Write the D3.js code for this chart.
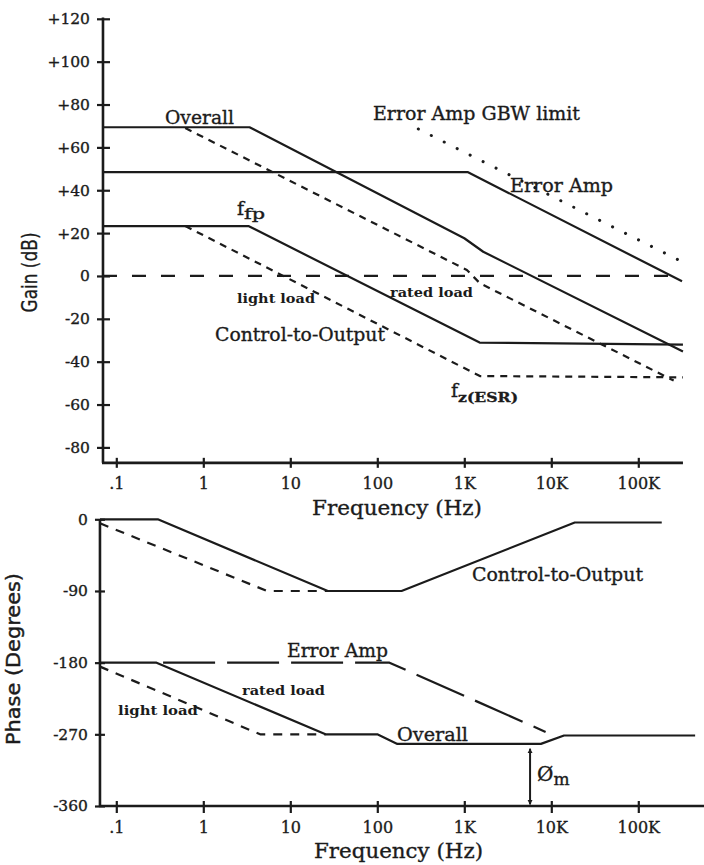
<!DOCTYPE html>
<html><head><meta charset="utf-8">
<script src="https://cdn.jsdelivr.net/npm/d3@7"></script>
<style>html,body{margin:0;padding:0;background:#fff;} svg{display:block;}</style>
</head><body>
<svg id="chart" width="704" height="865"></svg>
<script>
// ---------- axis ticks ----------
const freqTicks  = [0.1, 1, 10, 100, 1000, 10000, 100000];
const freqLabels = [".1", "1", "10", "100", "1K", "10K", "100K"];
const gainTicks  = [120, 100, 80, 60, 40, 20, 0, -20, -40, -60, -80];
const gainLabels = ["+120", "+100", "+80", "+60", "+40", "+20", "0", "-20", "-40", "-60", "-80"];
const phaseTicks  = [0, -90, -180, -270, -360];
const phaseLabels = ["0", "-90", "-180", "-270", "-360"];

// axis extents [min, max]
const gainFreqExtent  = [0.0703, 326000];
const gainAxisExtent  = [-87.2, 120.6];
const phaseFreqExtent = [0.0649, 569000];
const phaseAxisExtent = [-360, 0];

// ---------- gain curves: [frequency Hz, dB] ----------
const gainErrorAmp      = [[0.0703, 48.5], [1090, 48.5], [318000, -2.5]];
const gainGbwLimit      = [[296, 68.6], [288000, 7.5]];
const gainOverallRated  = [[0.0703, 69.4], [3.4, 69.4], [1000, 17.6], [1650, 11.3], [326000, -35.3]];
const gainControlRated  = [[0.0703, 23.3], [3.3, 23.3], [1500, -31.1], [326000, -32]];
const gainOverallLight  = [[0.62, 69.0], [1070, 2.8], [1510, -3.4], [255000, -48.8]];
const gainControlLight  = [[0.62, 23.3], [1510, -46.7], [326000, -47.3]];
const gainZeroLine      = [[0.0703, 0], [326000, 0]];

// ---------- phase curves: [frequency Hz, degrees] ----------
const phaseControlRated = [[0.0649, 0], [0.3, 0], [27, -90], [190, -90], [18600, -4], [186000, -4]];
const phaseControlLight = [[0.0649, -5], [5.4, -90], [27, -90]];
const phaseErrorAmp     = [[0.345, -180], [138, -180], [8600, -267]];
const phaseOverallRated = [[0.0649, -180], [0.29, -180], [25.4, -270], [100, -270], [170, -282], [7600, -282], [14000, -271.5], [450000, -271.5]];
const phaseOverallLight = [[0.0649, -185], [4.5, -270], [25.4, -270]];
const phaseMargin       = [[5700, -288], [5700, -358]];

// ---------- drawing ----------
const ink = "#1b1b1b";
const serif = "'DejaVu Serif', serif";
const sans = "'DejaVu Sans', sans-serif";
const svg = d3.select("#chart");
svg.append("rect").attr("width", 704).attr("height", 865).attr("fill", "#fff");

const x  = d3.scaleLog().domain([0.1, 100000]).range([116.3, 638.3]);
const yG = d3.scaleLinear().domain([-80, 120]).range([447.4, 18.8]);
const yP = d3.scaleLinear().domain([-360, 0]).range([806, 519.3]);

const lineG = d3.line().x(d => x(d[0])).y(d => yG(d[1]));
const lineP = d3.line().x(d => x(d[0])).y(d => yP(d[1]));

function curve(gen, data, dash, width, cap) {
  return svg.append("path").attr("d", gen(data))
    .attr("fill", "none").attr("stroke", ink)
    .attr("stroke-width", width || 2.2)
    .attr("stroke-linejoin", "round")
    .attr("stroke-linecap", cap || "butt")
    .attr("stroke-dasharray", dash || null);
}

// defs: arrowheads
const defs = svg.append("defs");
defs.append("marker").attr("id", "arr").attr("viewBox", "0 0 10 10")
  .attr("refX", 9).attr("refY", 5).attr("markerWidth", 5).attr("markerHeight", 7)
  .attr("markerUnits", "userSpaceOnUse").attr("orient", "auto-start-reverse")
  .append("path").attr("d", "M0,0 L10,5 L0,10 Z").attr("fill", ink);

// ===== TOP: gain =====
svg.append("line")
  .attr("x1", x(gainFreqExtent[0])).attr("x2", x(gainFreqExtent[0]))
  .attr("y1", yG(gainAxisExtent[1])).attr("y2", yG(gainAxisExtent[0]))
  .attr("stroke", ink).attr("stroke-width", 2.6);
svg.append("line")
  .attr("x1", x(gainFreqExtent[0]) - 1).attr("x2", x(gainFreqExtent[1]))
  .attr("y1", yG(gainAxisExtent[0])).attr("y2", yG(gainAxisExtent[0]))
  .attr("stroke", ink).attr("stroke-width", 2.6);

const gY = svg.append("g").attr("transform", `translate(${x(gainFreqExtent[0])},0)`)
  .call(d3.axisLeft(yG).tickValues(gainTicks).tickFormat((d, i) => gainLabels[i]).tickSizeInner(6).tickSizeOuter(0));
gY.select(".domain").remove();
gY.attr("font-family", serif).attr("font-size", 15.5);
gY.selectAll(".tick line").attr("x1", 7).attr("x2", -6).attr("stroke", ink).attr("stroke-width", 2.2);
gY.selectAll(".tick text").attr("x", -13).attr("fill", ink).attr("stroke", ink).attr("stroke-width", 0.35);

const gX = svg.append("g").attr("transform", `translate(0,${yG(gainAxisExtent[0])})`)
  .call(d3.axisBottom(x).tickValues(freqTicks).tickFormat((d, i) => freqLabels[i]).tickSizeInner(5).tickSizeOuter(0));
gX.select(".domain").remove();
gX.attr("font-family", serif).attr("font-size", 16);
gX.selectAll(".tick line").attr("y1", -5).attr("y2", 5).attr("stroke", ink).attr("stroke-width", 2.2);
gX.selectAll(".tick text").attr("y", 26).attr("dy", null).attr("fill", ink).attr("stroke", ink).attr("stroke-width", 0.35);

// curves
curve(lineG, gainZeroLine, "14,15", 2.2);
curve(lineG, gainGbwLimit, "0.1,14.4", 3, "round");
curve(lineG, gainErrorAmp);
curve(lineG, gainOverallRated);
curve(lineG, gainControlRated);
curve(lineG, gainOverallLight, "7,6");
curve(lineG, gainControlLight, "7,6");

// ===== BOTTOM: phase =====
svg.append("line")
  .attr("x1", x(phaseFreqExtent[0])).attr("x2", x(phaseFreqExtent[0]))
  .attr("y1", yP(phaseAxisExtent[1])).attr("y2", yP(phaseAxisExtent[0]))
  .attr("stroke", ink).attr("stroke-width", 2.6);
svg.append("line")
  .attr("x1", x(phaseFreqExtent[0]) - 1).attr("x2", x(phaseFreqExtent[1]))
  .attr("y1", yP(phaseAxisExtent[0])).attr("y2", yP(phaseAxisExtent[0]))
  .attr("stroke", ink).attr("stroke-width", 2.6);

const pY = svg.append("g").attr("transform", `translate(${x(phaseFreqExtent[0])},0)`)
  .call(d3.axisLeft(yP).tickValues(phaseTicks).tickFormat((d, i) => phaseLabels[i]).tickSizeInner(5).tickSizeOuter(0));
pY.select(".domain").remove();
pY.attr("font-family", serif).attr("font-size", 15.5);
pY.selectAll(".tick line").attr("x1", 5).attr("x2", -5).attr("stroke", ink).attr("stroke-width", 2.2);
pY.selectAll(".tick text").attr("x", -12).attr("fill", ink).attr("stroke", ink).attr("stroke-width", 0.35);

const pX = svg.append("g").attr("transform", `translate(0,${yP(phaseAxisExtent[0])})`)
  .call(d3.axisBottom(x).tickValues(freqTicks).tickFormat((d, i) => freqLabels[i]).tickSizeInner(6).tickSizeOuter(0));
pX.select(".domain").remove();
pX.attr("font-family", serif).attr("font-size", 16);
pX.selectAll(".tick line").attr("y1", -5).attr("y2", 7).attr("stroke", ink).attr("stroke-width", 2.2);
pX.selectAll(".tick text").attr("y", 27).attr("dy", null).attr("fill", ink).attr("stroke", ink).attr("stroke-width", 0.35);

curve(lineP, phaseControlRated);
curve(lineP, phaseControlLight, "9,8");
curve(lineP, phaseErrorAmp, "52,12");
curve(lineP, phaseOverallRated);
curve(lineP, phaseOverallLight, "9,8");
curve(lineP, phaseMargin, null, 2)
  .attr("marker-start", "url(#arr)").attr("marker-end", "url(#arr)");

// ---------- text ----------
function label(txt, px, py, size, opts) {
  opts = opts || {};
  const t = svg.append("text").attr("x", px).attr("y", py)
    .attr("font-family", opts.family || serif).attr("font-size", size)
    .attr("font-weight", opts.weight || "normal").attr("fill", ink)
    .attr("stroke", ink).attr("stroke-width", opts.sw == null ? 0.35 : opts.sw)
    .text(txt);
  if (opts.len) t.attr("textLength", opts.len).attr("lengthAdjust", "spacingAndGlyphs");
  return t;
}
function subLabel(main, sub, px, py, size, subSize, subDy, subOpts) {
  const t = svg.append("text").attr("x", px).attr("y", py)
    .attr("font-family", serif).attr("font-size", size).attr("fill", ink)
    .attr("stroke", ink).attr("stroke-width", 0.35);
  t.append("tspan").text(main);
  const s = t.append("tspan").attr("dy", subDy).attr("font-size", subSize)
    .attr("font-weight", subOpts.weight || "normal").text(sub);
  if (subOpts.len) s.attr("textLength", subOpts.len).attr("lengthAdjust", "spacingAndGlyphs");
  return t;
}

// top chart labels
label("Overall", 165, 124, 19, {len: 69});
label("Error Amp GBW limit", 373, 120, 19, {len: 207});
label("Error Amp", 510, 192, 19, {len: 103});
subLabel("f", "fp", 237, 215, 19, 15, 4, {len: 21});
label("light load", 237, 303, 13, {weight: "bold", len: 78, sw: 0});
label("rated load", 390, 297, 13, {weight: "bold", len: 83, sw: 0});
label("Control-to-Output", 215, 341, 19, {len: 170});
subLabel("f", "z(ESR)", 451, 397, 19, 13.5, 5, {weight: "bold", len: 60});
label("Frequency (Hz)", 312, 515, 21, {len: 170});

// axis titles
svg.append("text").attr("transform", "translate(37,272.5) rotate(-90)")
  .attr("text-anchor", "middle").attr("font-family", sans).attr("font-size", 21)
  .attr("fill", ink).attr("stroke", ink).attr("stroke-width", 0.3)
  .attr("textLength", 80).attr("lengthAdjust", "spacingAndGlyphs")
  .text("Gain (dB)");
svg.append("text").attr("transform", "translate(20,659) rotate(-90)")
  .attr("text-anchor", "middle").attr("font-family", sans).attr("font-size", 20)
  .attr("fill", ink).attr("stroke", ink).attr("stroke-width", 0.45)
  .attr("textLength", 172).attr("lengthAdjust", "spacingAndGlyphs")
  .text("Phase (Degrees)");

// bottom chart labels
label("Control-to-Output", 472, 581, 19, {len: 171});
label("Error Amp", 287, 657, 19, {len: 101});
label("rated load", 242, 695, 13, {weight: "bold", len: 83, sw: 0});
label("light load", 118, 715, 13, {weight: "bold", len: 80, sw: 0});
label("Overall", 397, 741, 18, {len: 71});
subLabel("Ø", "m", 537, 781, 20, 17, 4, {});
label("Frequency (Hz)", 314, 858, 21, {len: 169});
</script>
</body></html>
